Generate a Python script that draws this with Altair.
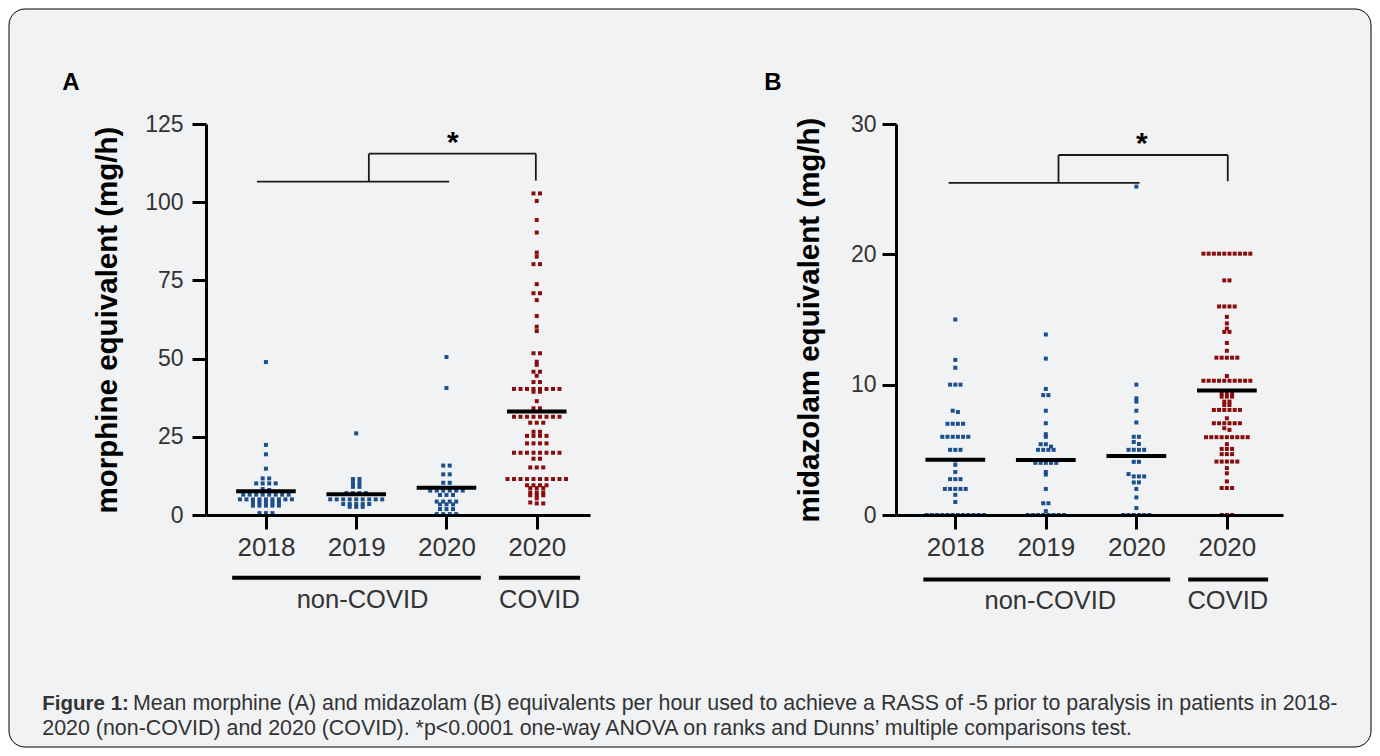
import altair as alt
import pandas as pd

FONT = "Liberation Sans, Arial, sans-serif"
BLUE = "#1d4f8e"
RED = "#8b0c0c"
BG = "#f1f2f4"
TXT = "#333333"

# ---------------- data ----------------
categories = ["2018", "2019", "2020", "2020"]
cohorts = ["non-COVID", "non-COVID", "non-COVID", "COVID"]

morphine_2018 = [48.9, 22.4, 19.4, 14.8, 11.7, 11.7, 10.1, 10.1, 10.1, 10.1, 8.3, 8.0,
                 6.5, 6.5, 6.5, 6.5, 6.5, 6.5, 6.5, 6.5,
                 5.0, 5.0, 5.0, 5.0, 5.0, 5.0, 5.0, 5.0, 5.0,
                 4.0, 4.0, 4.0, 4.0, 4.0, 3.0, 3.0, 3.0, 3.0, 3.0, 0.6, 0.6, 0.6]
morphine_2019 = [26.1, 11.5, 11.5, 10.2, 10.2, 9.0, 9.0, 7.0, 7.0, 7.0, 7.0,
                 5.0, 5.0, 5.0, 5.0, 5.0, 5.0, 5.0, 5.0, 5.0,
                 3.5, 3.5, 3.5, 3.5, 3.5, 2.6, 2.6, 2.6]
morphine_2020 = [50.5, 40.6, 15.8, 15.8, 13.0, 13.0, 10.3, 10.3,
                 7.8, 7.8, 7.8, 7.8, 7.8, 7.8, 6.4, 6.4, 6.4,
                 4.3, 4.3, 4.3, 4.3, 3.4, 3.4, 3.4, 1.9, 1.9, 1.9, 0.3, 0.3, 0.3, 0.3]
morphine_covid = [102.8, 102.8, 100.4, 94.3, 90.3, 83.9, 82.6, 80.2, 80.2, 73.8, 70.9, 70.9,
                  68.7, 63.6, 60.2, 58.8, 51.7, 51.7, 49.0, 48.0, 45.8, 45.8, 44.5, 42.5, 42.5,
                  40.3, 40.3, 40.3, 40.3, 40.3, 40.3, 40.3, 40.3, 39.4, 39.4, 36.4, 34.1, 34.1,
                  31.4, 31.4, 31.4, 31.4, 31.4, 31.4, 31.4, 31.4, 29.5, 29.5, 29.5, 26.6, 26.6,
                  25.3, 25.3, 25.3, 25.3, 22.9, 22.9, 22.9, 22.9,
                  19.9, 19.9, 19.9, 19.9, 19.9, 19.9, 19.9, 19.9, 18.0, 18.0, 15.2, 15.2, 15.2,
                  11.5, 11.5, 11.5, 11.5, 11.5, 11.5, 11.5, 11.5, 11.5, 11.5,
                  9.5, 9.5, 9.5, 9.5, 8.6, 8.6, 8.6, 7.2, 7.2, 7.2, 6.3, 6.3, 6.3, 5.3, 4.0, 3.7, 3.7]

midazolam_2018 = [15.0, 11.9, 11.3, 10.0, 10.0, 10.0, 8.0, 7.9, 7.0, 7.0, 7.0, 7.0,
                  6.0, 6.0, 6.0, 6.0, 6.0, 6.0, 5.0, 5.0, 5.0, 4.2, 3.85, 3.3, 2.75, 2.75, 2.75,
                  2.0, 2.0, 2.0, 2.0, 2.0, 1.55, 1.0,
                  0, 0, 0, 0, 0, 0, 0, 0, 0, 0, 0, 0]
midazolam_2019 = [13.85, 12.0, 9.67, 9.2, 9.2, 8.0, 7.04, 6.2, 6.0, 5.43, 5.43, 5.25,
                  5.0, 5.0, 5.0, 5.0, 4.0, 4.0, 4.0, 4.0, 4.0, 3.3, 3.1, 2.0, 0.9, 0.9, 0.3,
                  0, 0, 0, 0, 0, 0, 0, 0]
midazolam_2020 = [25.2, 10.0, 8.95, 8.7, 8.0, 7.1, 6.0, 6.0, 5.6, 5.45, 5.0, 5.0, 5.0, 5.0,
                  4.08, 4.08, 3.14, 2.96, 2.96, 2.96, 2.5, 2.5, 2.0, 1.35, 0.53,
                  0, 0, 0, 0, 0, 0]
midazolam_covid = [20.05, 20.05, 20.05, 20.05, 20.05, 20.05, 20.05, 20.05, 20.05, 20.05,
                   18.0, 18.0, 16.0, 16.0, 16.0, 16.0, 15.2, 14.7, 14.3, 14.05, 14.05, 13.2, 12.6,
                   12.07, 12.07, 12.07, 12.07, 12.07, 10.66,
                   10.3, 10.3, 10.3, 10.3, 10.3, 10.3, 10.3, 10.3, 10.3, 10.3,
                   9.33, 9.33, 9.33, 9.08, 9.08, 9.08, 8.7, 8.7, 8.44, 8.44,
                   8.06, 8.06, 8.06, 8.06, 8.06, 8.06, 7.42, 7.04, 7.04, 7.04, 7.04, 7.04, 7.04,
                   6.66, 6.53, 5.97, 5.97, 5.97, 5.97, 5.97, 5.97, 5.97, 5.97, 5.97,
                   5.43, 5.07, 5.07, 5.07, 4.67, 4.67, 4.67, 4.1, 4.1, 4.1, 4.1, 4.1,
                   3.6, 3.2, 2.58, 2.07, 2.07, 2.07, 0, 0, 0]

ticks_A = [0, 25, 50, 75, 100, 125]
ticks_B = [0, 10, 20, 30]

caption_bold = "Figure 1:"
caption_1 = "Mean morphine (A) and midazolam (B) equivalents per hour used to achieve a RASS of -5 prior to paralysis in patients in 2018-"
caption_2 = "2020 (non-COVID) and 2020 (COVID). *p<0.0001 one-way ANOVA on ranks and Dunns\u2019 multiple comparisons test."


def swarm(values, ppu, gap_px, step):
    """Place points of (nearly) equal value side by side, Prism style."""
    vals = sorted(values, reverse=True)
    rows = []
    for v in vals:
        if rows and (rows[-1][0] - v) * ppu < gap_px:
            rows[-1].append(v)
        else:
            rows.append([v])
    out = []
    for row in rows:
        n = len(row)
        for k, v in enumerate(row):
            out.append((v, (k - (n - 1) / 2) * step))
    return out


def build_df(groups, ppu, step):
    recs = []
    for i, vals in enumerate(groups):
        for v, off in swarm(vals, ppu, 2.5, step):
            recs.append({"idx": i, "value": v, "xpos": i + off, "cohort": cohorts[i]})
    return pd.DataFrame(recs)


label_expr = "[" + ",".join("'%s'" % c for c in categories) + "][datum.value]"


def panel(groups, ymax, yticks, ytitle, width, height, xdom, step, ppu,
          brackets, star, underlines, grouplabels, letter, lab_pad, title_pad, extra=None):
    df = build_df(groups, ppu, step)
    xs = alt.Scale(domain=xdom, nice=False, zero=False)
    ys = alt.Scale(domain=[0, ymax], nice=False, zero=False)
    x_axis = alt.Axis(values=[0, 1, 2, 3], labelExpr=label_expr, title=None, grid=False,
                      tickSize=14, tickWidth=3, domainWidth=3, domainColor="black",
                      tickColor="black", labelFont=FONT, labelFontSize=26, labelColor=TXT,
                      labelPadding=5, labelOverlap=False, labelFlush=False, zindex=1)
    y_axis = alt.Axis(values=yticks, title=ytitle, grid=False, tickSize=14, tickWidth=3,
                      domainWidth=3, domainColor="black", tickColor="black",
                      labelFont=FONT, labelFontSize=23, labelColor=TXT, labelPadding=lab_pad,
                      labelFlush=False, labelOverlap=False, zindex=1,
                      titleFont=FONT, titleFontSize=29.5, titleFontWeight="bold",
                      titleColor="black", titlePadding=title_pad)

    def X(f):
        return alt.X(f, scale=xs, axis=x_axis)

    def Y(f):
        return alt.Y(f, scale=ys, axis=y_axis)

    points = alt.Chart(df).mark_square(size=16, opacity=1, clip=False).encode(
        x=X("xpos:Q"), y=Y("value:Q"),
        color=alt.Color("cohort:N", scale=alt.Scale(domain=["non-COVID", "COVID"],
                                                    range=[BLUE, RED]), legend=None),
    )
    means = alt.Chart(df).transform_aggregate(
        mean="mean(value)", groupby=["idx"]
    ).transform_calculate(
        x1="datum.idx - 0.33", x2="datum.idx + 0.33"
    ).mark_rule(strokeWidth=4, color="black", clip=False).encode(
        x=X("x1:Q"), x2="x2:Q", y=Y("mean:Q"))
    br = alt.Chart(pd.DataFrame(brackets, columns=["x", "x2", "y", "y2"])).mark_rule(
        strokeWidth=1.8, color="#1a1a1a", clip=False).encode(
        x=X("x:Q"), x2="x2:Q", y=Y("y:Q"), y2="y2:Q")
    st = alt.Chart(pd.DataFrame([star], columns=["x", "y"])).mark_text(
        text="*", font=FONT, fontSize=30, fontWeight="bold", color="black",
        baseline="middle", dy=7, clip=False).encode(x=X("x:Q"), y=Y("y:Q"))
    ul = alt.Chart(pd.DataFrame(underlines, columns=["x", "x2", "y"])).mark_rule(
        strokeWidth=4, color="black", clip=False).encode(
        x=X("x:Q"), x2="x2:Q", y=Y("y:Q"))
    gl = alt.Chart(pd.DataFrame(grouplabels, columns=["x", "y", "t"])).mark_text(
        font=FONT, fontSize=25.5, color=TXT, baseline="middle", align="center",
        clip=False).encode(x=X("x:Q"), y=Y("y:Q"), text="t:N")
    lt = alt.Chart(pd.DataFrame([{"t": letter[0]}])).mark_text(
        font=FONT, fontSize=24, fontWeight="bold", color="black", align="center",
        baseline="middle").encode(x=alt.value(letter[1]), y=alt.value(letter[2]), text="t:N")
    layers = []
    if extra:
        layers += extra
    layers += [points, means, br, st, ul, gl, lt]
    return alt.layer(*layers).properties(width=width, height=height)


one = pd.DataFrame([{"t": ""}])
frame = alt.Chart(one).mark_rect(fill=BG, stroke="black", strokeWidth=1, cornerRadius=16,
                                 clip=False).encode(
    x=alt.value(-197), x2=alt.value(1165), y=alt.value(-115), y2=alt.value(623))
cap_b = alt.Chart(pd.DataFrame([{"t": caption_bold}])).mark_text(
    font=FONT, fontSize=20.5, fontWeight="bold", color=TXT, align="left", baseline="middle",
    clip=False).encode(x=alt.value(-163.7), y=alt.value(580), text="t:N")
cap_1 = alt.Chart(pd.DataFrame([{"t": caption_1}])).mark_text(
    font=FONT, fontSize=21.4, color=TXT, align="left", baseline="middle",
    clip=False).encode(x=alt.value(-73), y=alt.value(580), text="t:N")
cap_2 = alt.Chart(pd.DataFrame([{"t": caption_2}])).mark_text(
    font=FONT, fontSize=21.4, color=TXT, align="left", baseline="middle",
    clip=False).encode(x=alt.value(-163.7), y=alt.value(605), text="t:N")

brackets_A = [[-0.10, 2.03, 106.6, 106.6], [1.14, 1.14, 106.6, 115.5],
              [1.14, 2.99, 115.5, 115.5], [2.99, 2.99, 115.5, 106.9]]
brackets_B = [[-0.074, 2.035, 25.48, 25.48], [1.14, 1.14, 25.48, 27.62],
              [1.14, 3.01, 27.62, 27.62], [3.01, 3.01, 27.62, 25.61]]

panelA = panel([morphine_2018, morphine_2019, morphine_2020, morphine_covid],
               125, ticks_A, "morphine equivalent (mg/h)", 384, 391, [-0.664, 3.59],
               0.072, 3.128, brackets_A, [2.07, 121.2],
               [[-0.374, 2.38, -20.1], [2.58, 3.48, -20.1]],
               [[1.07, -27.2, "non-COVID"], [3.03, -27.2, "COVID"]],
               ("A", -135, -41), 9, 22, extra=[frame, cap_b, cap_1, cap_2])
panelB = panel([midazolam_2018, midazolam_2019, midazolam_2020, midazolam_covid],
               30, ticks_B, "midazolam equivalent (mg/h)", 387, 391, [-0.655, 3.62],
               0.0575, 13.05, brackets_B, [2.06, 28.98],
               [[-0.353, 2.374, -4.94], [2.573, 3.456, -4.94]],
               [[1.05, -6.63, "non-COVID"], [3.01, -6.63, "COVID"]],
               ("B", -123, -41), 6, 26)

chart = alt.hconcat(panelA, panelB, spacing=306, bounds="flush").properties(
    padding=0).configure_view(strokeWidth=0)

chart.save("out.html", embed_options={"renderer": "svg", "actions": False})
